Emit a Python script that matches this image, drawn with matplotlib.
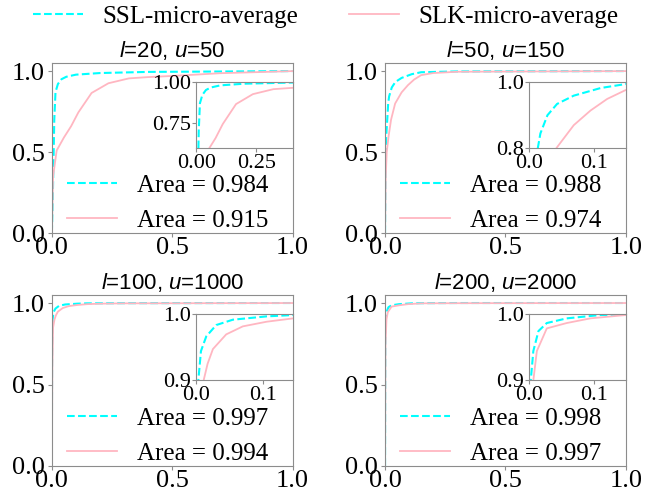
import matplotlib
matplotlib.use('Agg')
import matplotlib.pyplot as plt

# Panel titles and AUC values
titles = ['$l$=20, $u$=50', '$l$=50, $u$=150', '$l$=100, $u$=1000', '$l$=200, $u$=2000']
ssl_area = [0.984, 0.988, 0.997, 0.998]
slk_area = [0.915, 0.974, 0.994, 0.997]

# ROC curves (fpr, tpr)
ssl_fpr_1 = [0, 0.005, 0.01, 0.015, 0.025, 0.04, 0.06, 0.1, 0.2, 0.4, 1.0]
ssl_tpr_1 = [0, 0.3, 0.7, 0.87, 0.92, 0.95, 0.965, 0.978, 0.988, 0.995, 1.0]
slk_fpr_1 = [0, 0.005, 0.02, 0.05, 0.08, 0.11, 0.165, 0.235, 0.32, 0.4, 0.5, 0.7, 1.0]
slk_tpr_1 = [0, 0.35, 0.51, 0.59, 0.66, 0.745, 0.865, 0.925, 0.955, 0.963, 0.97, 0.987, 1.0]

ssl_fpr_2 = [0, 0.002, 0.005, 0.01, 0.013, 0.017, 0.028, 0.043, 0.069, 0.111, 0.15, 0.3, 1.0]
ssl_tpr_2 = [0, 0.45, 0.6, 0.72, 0.8, 0.844, 0.899, 0.933, 0.958, 0.981, 0.993, 0.998, 1.0]
slk_fpr_2 = [0, 0.003, 0.007, 0.015, 0.025, 0.042, 0.069, 0.095, 0.121, 0.15, 0.2, 0.3, 1.0]
slk_tpr_2 = [0, 0.35, 0.5, 0.6, 0.7, 0.8, 0.869, 0.913, 0.948, 0.975, 0.988, 0.996, 1.0]

ssl_fpr_3 = [0, 0.001, 0.003, 0.007, 0.015, 0.03, 0.055, 0.106, 0.146, 0.3, 1.0]
ssl_tpr_3 = [0, 0.75, 0.9, 0.944, 0.966, 0.983, 0.991, 0.996, 0.998, 0.999, 1.0]
slk_fpr_3 = [0, 0.002, 0.005, 0.011, 0.017, 0.025, 0.045, 0.07, 0.106, 0.146, 0.2, 0.3, 1.0]
slk_tpr_3 = [0, 0.6, 0.85, 0.9, 0.925, 0.947, 0.969, 0.981, 0.988, 0.993, 0.996, 0.998, 1.0]

ssl_fpr_4 = [0, 0.001, 0.002, 0.006, 0.014, 0.027, 0.058, 0.11, 0.15, 0.3, 1.0]
ssl_tpr_4 = [0, 0.8, 0.9, 0.944, 0.974, 0.986, 0.993, 0.998, 0.999, 1.0, 1.0]
slk_fpr_4 = [0, 0.002, 0.006, 0.0115, 0.027, 0.058, 0.095, 0.15, 0.3, 1.0]
slk_tpr_4 = [0, 0.75, 0.9, 0.944, 0.978, 0.986, 0.993, 0.998, 0.999, 1.0]

ssl_fpr = [ssl_fpr_1, ssl_fpr_2, ssl_fpr_3, ssl_fpr_4]
ssl_tpr = [ssl_tpr_1, ssl_tpr_2, ssl_tpr_3, ssl_tpr_4]
slk_fpr = [slk_fpr_1, slk_fpr_2, slk_fpr_3, slk_fpr_4]
slk_tpr = [slk_tpr_1, slk_tpr_2, slk_tpr_3, slk_tpr_4]

# Inset zoom windows and ticks
inset_xlim = [(0, 0.4), (0, 0.15), (0, 0.145), (0, 0.15)]
inset_ylim = [(0.6, 1.0), (0.8, 1.0), (0.9, 1.0), (0.9, 1.0)]
inset_xticks = [[0, 0.25], [0, 0.1], [0, 0.1], [0, 0.1]]
inset_xlabels = [['0.00', '0.25'], ['0.0', '0.1'], ['0.0', '0.1'], ['0.0', '0.1']]
inset_yticks = [[0.75, 1.0], [0.8, 1.0], [0.9, 1.0], [0.9, 1.0]]
inset_ylabels = [['0.75', '1.00'], ['0.8', '1.0'], ['0.9', '1.0'], ['0.9', '1.0']]

SSL_COLOR = 'cyan'
SLK_COLOR = 'lightpink'
EDGE = '#8c8c8c'

plt.rcParams['font.family'] = ['Liberation Serif', 'DejaVu Serif']
plt.rcParams['mathtext.fontset'] = 'custom'
plt.rcParams['mathtext.it'] = 'Liberation Sans:italic'
plt.rcParams['mathtext.rm'] = 'Liberation Sans'

fig = plt.figure(figsize=(6.65, 4.96), dpi=100)

positions = [
    [0.078, 0.530, 0.362, 0.343],
    [0.579, 0.530, 0.362, 0.343],
    [0.078, 0.0605, 0.362, 0.345],
    [0.579, 0.0605, 0.362, 0.345],
]

handles = None
for i, pos in enumerate(positions):
    ax = fig.add_axes(pos)
    l1, = ax.plot(ssl_fpr[i], ssl_tpr[i], color=SSL_COLOR, linestyle='--', linewidth=1.5)
    l2, = ax.plot(slk_fpr[i], slk_tpr[i], color=SLK_COLOR, linewidth=1.3)
    handles = (l1, l2)
    ax.set_xlim(0, 1)
    ax.set_ylim(0, 1.05)
    ax.set_xticks([0, 0.5, 1.0])
    ax.set_yticks([0, 0.5, 1.0])
    ax.tick_params(labelsize=19, color=EDGE, length=3, pad=2)
    ax.tick_params(axis='x', pad=0)
    for s in ax.spines.values():
        s.set_color(EDGE)
    ax.set_title(titles[i], fontsize=16, family='Liberation Sans', pad=4)
    ax.legend([l1, l2], [f'Area = {ssl_area[i]:.3f}', f'Area = {slk_area[i]:.3f}'],
              loc='lower left', bbox_to_anchor=(0.02, -0.05), frameon=False,
              fontsize=18, borderaxespad=0)

    ins = ax.inset_axes([0.6, 0.5, 0.4, 0.39])
    ins.plot(ssl_fpr[i], ssl_tpr[i], color=SSL_COLOR, linestyle='--', linewidth=1.5)
    ins.plot(slk_fpr[i], slk_tpr[i], color=SLK_COLOR, linewidth=1.3)
    ins.set_xlim(*inset_xlim[i])
    ins.set_ylim(*inset_ylim[i])
    ins.set_xticks(inset_xticks[i])
    ins.set_xticklabels(inset_xlabels[i])
    ins.set_yticks(inset_yticks[i])
    ins.set_yticklabels(inset_ylabels[i])
    ins.tick_params(labelsize=16, color=EDGE, length=3, pad=1)
    for s in ins.spines.values():
        s.set_color(EDGE)

fig.legend(handles, ['SSL-micro-average', 'SLK-micro-average'], loc='center',
           bbox_to_anchor=(0.49, 0.966), ncol=2, frameon=False, fontsize=18,
           columnspacing=2.0)

fig.savefig('out.png', dpi=100)
